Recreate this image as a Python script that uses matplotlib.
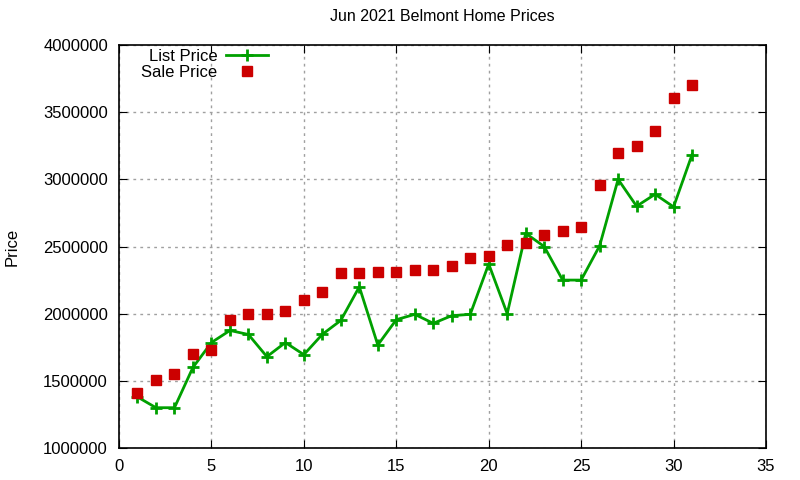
import matplotlib
matplotlib.use("Agg")
from matplotlib import pyplot as plt
from matplotlib.ticker import MultipleLocator, FormatStrFormatter

plt.rcParams['font.family'] = ['Liberation Sans', 'DejaVu Sans']

days = list(range(1, 32))
list_price = [1380000, 1300000, 1300000, 1600000, 1785000, 1875000, 1845000, 1680000,
              1785000, 1695000, 1846000, 1950000, 2200000, 1767000, 1955000, 1995000,
              1928000, 1985000, 1995000, 2370000, 2000000, 2598000, 2500000, 2250000,
              2250000, 2505000, 3000000, 2800000, 2889000, 2795000, 3184000]
sale_price = [1408000, 1505000, 1549000, 1698000, 1727000, 1950000, 2000000, 2000000,
              2017000, 2099000, 2158000, 2300000, 2300000, 2307000, 2307000, 2322000,
              2322000, 2352000, 2411000, 2426000, 2508000, 2523000, 2582000, 2619000,
              2642000, 2955000, 3199000, 3250000, 3362000, 3605000, 3704000]

fig = plt.figure(figsize=(8, 4.8), dpi=100)
ax = fig.add_axes([119 / 800, 1 - 448 / 480, (766 - 119) / 800, (448 - 45) / 480])

ax.plot(days, list_price, color='#00a000', lw=2, marker='+', ms=9, mew=2,
        label='List Price')
ax.plot(days, sale_price, ls='none', color='#cc0000', marker='s', ms=7,
        label='Sale Price')

ax.set_xlim(0, 35)
ax.set_ylim(1000000, 4000000)
ax.xaxis.set_major_locator(MultipleLocator(5))
ax.yaxis.set_major_locator(MultipleLocator(500000))
ax.yaxis.set_major_formatter(FormatStrFormatter('%d'))
ax.tick_params(direction='in', top=True, right=True, length=6, labelsize=12, pad=8)
ax.grid(True, color='#a0a0a0', ls=(0, (2, 3)), lw=1)
for s in ax.spines.values():
    s.set_linewidth(1.2)

ax.set_title('Jun 2021 Belmont Home Prices', fontsize=11.5, pad=17)
ax.set_ylabel('Price', fontsize=12, labelpad=17)

ax.legend(loc='upper right', bbox_to_anchor=(268 / 800, 1 - 49 / 480),
          bbox_transform=fig.transFigure, frameon=False, markerfirst=False,
          fontsize=12, handlelength=2.5, handletextpad=0.55, labelspacing=0.05,
          borderaxespad=0, borderpad=0)

plt.savefig('out.png')
